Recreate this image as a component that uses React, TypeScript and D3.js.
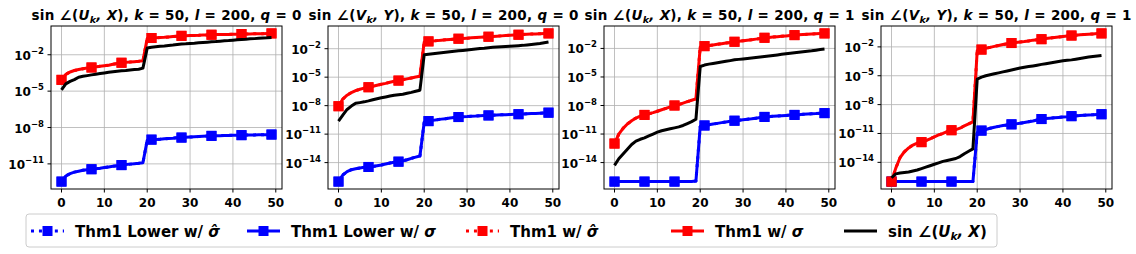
import React from "react";
import * as d3 from "d3";

const W = 1136;
const H = 254;

const iters = d3.range(50);
const xTicks = [0, 10, 20, 30, 40, 50];

// curves are kept as log10 of the value
// panel 1: U, q = 0
const lowerU0 = [
  -12.46, -12.0, -11.8, -11.68, -11.6, -11.53, -11.48, -11.44, -11.4, -11.36,
  -11.3, -11.25, -11.2, -11.15, -11.1, -11.06, -11.02, -10.98, -10.95, -10.9,
  -9.05, -9.0, -8.98, -8.96, -8.93, -8.9, -8.88, -8.85, -8.83, -8.81,
  -8.79, -8.77, -8.75, -8.73, -8.71, -8.69, -8.68, -8.67, -8.66, -8.65,
  -8.64, -8.64, -8.63, -8.62, -8.61, -8.61, -8.6, -8.59, -8.59, -8.58,
];
const thmU0 = [
  -4.07, -3.62, -3.42, -3.3, -3.22, -3.15, -3.1, -3.05, -3.0, -2.95,
  -2.9, -2.86, -2.78, -2.72, -2.66, -2.62, -2.6, -2.57, -2.54, -2.5,
  -0.66, -0.62, -0.6, -0.58, -0.56, -0.53, -0.5, -0.47, -0.44, -0.43,
  -0.42, -0.41, -0.4, -0.38, -0.37, -0.35, -0.34, -0.33, -0.33, -0.32,
  -0.31, -0.3, -0.29, -0.29, -0.28, -0.27, -0.27, -0.26, -0.25, -0.24,
];
const sinU0 = [
  -4.9, -4.4, -4.2, -4.05, -3.85, -3.78, -3.72, -3.66, -3.6, -3.55,
  -3.5, -3.45, -3.4, -3.36, -3.32, -3.29, -3.25, -3.22, -3.19, -3.1,
  -1.45, -1.38, -1.34, -1.3, -1.27, -1.23, -1.2, -1.16, -1.12, -1.1,
  -1.07, -1.05, -1.02, -0.99, -0.96, -0.93, -0.91, -0.88, -0.85, -0.83,
  -0.8, -0.77, -0.74, -0.72, -0.69, -0.67, -0.64, -0.62, -0.6, -0.57,
];

// panel 2: V, q = 0
const lowerV0 = [
  -16.0, -15.3, -14.95, -14.75, -14.65, -14.56, -14.5, -14.46, -14.4, -14.33,
  -14.25, -14.15, -14.05, -13.97, -13.9, -13.82, -13.7, -13.55, -13.42, -13.3,
  -9.75, -9.63, -9.55, -9.48, -9.42, -9.37, -9.31, -9.25, -9.2, -9.17,
  -9.15, -9.12, -9.1, -9.07, -9.05, -9.03, -9.01, -8.99, -8.97, -8.95,
  -8.93, -8.91, -8.9, -8.88, -8.86, -8.84, -8.82, -8.79, -8.77, -8.74,
];
const thmV0 = [
  -8.06, -7.3, -6.9, -6.62, -6.42, -6.27, -6.15, -6.06, -5.95, -5.85,
  -5.75, -5.65, -5.53, -5.43, -5.36, -5.28, -5.18, -5.08, -4.98, -4.9,
  -1.3, -1.23, -1.19, -1.15, -1.11, -1.07, -1.03, -0.99, -0.95, -0.92,
  -0.89, -0.86, -0.83, -0.8, -0.77, -0.74, -0.71, -0.68, -0.65, -0.62,
  -0.59, -0.56, -0.53, -0.5, -0.48, -0.46, -0.44, -0.42, -0.4, -0.39,
];
const sinV0 = [
  -9.63, -9.0, -8.4, -8.05, -7.75, -7.68, -7.6, -7.5, -7.38, -7.27,
  -7.17, -7.08, -6.98, -6.9, -6.85, -6.8, -6.7, -6.6, -6.48, -6.37,
  -2.63, -2.58, -2.53, -2.48, -2.43, -2.38, -2.33, -2.28, -2.22, -2.18,
  -2.13, -2.08, -2.04, -1.99, -1.95, -1.9, -1.86, -1.83, -1.8, -1.77,
  -1.74, -1.71, -1.68, -1.65, -1.6, -1.55, -1.5, -1.45, -1.38, -1.3,
];

// panel 3: U, q = 1
const lowerU1 = [
  -16.0, -16.0, -16.0, -16.0, -16.0, -16.0, -16.0, -16.0, -16.0, -16.0,
  -16.0, -16.0, -16.0, -16.0, -16.0, -16.0, -16.0, -16.0, -16.0, -15.95,
  -10.2, -10.1, -10.02, -9.95, -9.88, -9.8, -9.73, -9.66, -9.6, -9.55,
  -9.5, -9.45, -9.4, -9.33, -9.26, -9.2, -9.17, -9.14, -9.1, -9.07,
  -9.04, -9.01, -8.99, -8.96, -8.93, -8.9, -8.87, -8.85, -8.82, -8.8,
];
const thmU1 = [
  -12.0, -11.0, -10.4, -9.95, -9.6, -9.32, -9.12, -8.99, -8.88, -8.75,
  -8.6, -8.45, -8.3, -8.15, -8.0, -7.9, -7.75, -7.6, -7.45, -7.3,
  -1.85, -1.76, -1.7, -1.63, -1.57, -1.5, -1.44, -1.37, -1.3, -1.25,
  -1.2, -1.14, -1.08, -1.02, -0.95, -0.88, -0.84, -0.8, -0.76, -0.72,
  -0.68, -0.64, -0.6, -0.57, -0.54, -0.51, -0.48, -0.46, -0.44, -0.42,
];
const sinU1 = [
  -14.3, -13.6, -13.1, -12.6, -12.1, -11.75, -11.55, -11.4, -11.2, -11.0,
  -10.8, -10.65, -10.55, -10.45, -10.35, -10.25, -10.1, -9.9, -9.7, -9.45,
  -3.9, -3.75, -3.65, -3.58, -3.5, -3.43, -3.35, -3.28, -3.2, -3.15,
  -3.1, -3.05, -3.0, -2.95, -2.9, -2.85, -2.8, -2.74, -2.68, -2.62,
  -2.56, -2.5, -2.45, -2.4, -2.35, -2.3, -2.25, -2.18, -2.12, -2.07,
];

// panel 4: V, q = 1
const lowerV1 = [
  -16.0, -16.0, -16.0, -16.0, -16.0, -16.0, -16.0, -16.0, -16.0, -16.0,
  -16.0, -16.0, -16.0, -16.0, -16.0, -16.0, -16.0, -16.0, -16.0, -16.0,
  -10.9, -10.7, -10.58, -10.46, -10.35, -10.26, -10.18, -10.12, -10.05, -10.0,
  -9.93, -9.86, -9.78, -9.7, -9.6, -9.5, -9.45, -9.41, -9.37, -9.33,
  -9.29, -9.25, -9.2, -9.17, -9.13, -9.1, -9.07, -9.05, -9.02, -9.0,
];
const thmV1 = [
  -16.0, -14.6, -13.5, -12.9, -12.5, -12.2, -12.0, -11.9, -11.75, -11.55,
  -11.35, -11.15, -11.0, -10.8, -10.66, -10.6, -10.45, -10.2, -10.0, -9.8,
  -2.4, -2.28, -2.15, -2.05, -1.95, -1.85, -1.76, -1.68, -1.6, -1.55,
  -1.5, -1.45, -1.38, -1.3, -1.25, -1.2, -1.14, -1.08, -1.03, -0.98,
  -0.93, -0.87, -0.82, -0.78, -0.74, -0.71, -0.68, -0.65, -0.62, -0.6,
];
const sinV1 = [
  -15.6, -15.2, -15.1, -15.05, -15.0, -14.9, -14.8, -14.65, -14.5, -14.35,
  -14.2, -14.05, -13.9, -13.8, -13.7, -13.6, -13.4, -13.1, -12.85, -12.6,
  -5.34, -5.15, -5.0, -4.9, -4.8, -4.7, -4.6, -4.5, -4.4, -4.3,
  -4.2, -4.12, -4.05, -3.98, -3.9, -3.82, -3.75, -3.68, -3.6, -3.52,
  -3.45, -3.4, -3.35, -3.28, -3.2, -3.13, -3.06, -3.0, -2.95, -2.9,
];

// the sigma-hat curves sit exactly under the sigma ones
const panels = [
  { A: "U", B: "X", q: 0, lower: lowerU0, thm: thmU0, sin: sinU0, yTicks: [-11, -8, -5, -2] },
  { A: "V", B: "Y", q: 0, lower: lowerV0, thm: thmV0, sin: sinV0, yTicks: [-14, -11, -8, -5, -2] },
  { A: "U", B: "X", q: 1, lower: lowerU1, thm: thmU1, sin: sinU1, yTicks: [-14, -11, -8, -5, -2] },
  { A: "V", B: "Y", q: 1, lower: lowerV1, thm: thmV1, sin: sinV1, yTicks: [-14, -11, -8, -5, -2] },
];

const BLUE = "#0000ff";
const RED = "#ff0000";
const FONT = "DejaVu Sans, sans-serif";

const panelLeft = [51, 328, 604, 881];
const panelW = 231;
const top = 26;
const bottom = 189;

const Panel = ({ p, left }) => {
  const x = d3.scaleLinear().domain([-2.45, 51.45]).range([left, left + panelW]);
  const all = [...p.lower, ...p.thm, ...p.sin];
  const lo = d3.min(all);
  const hi = d3.max(all);
  const pad = (hi - lo) * 0.05;
  const y = d3
    .scaleLog()
    .domain([10 ** (lo - pad), 10 ** (hi + pad)])
    .range([bottom, top]);

  const line = d3
    .line<number>()
    .x((_, i) => x(i))
    .y((v) => y(10 ** v));

  const series = [
    { data: p.lower, color: BLUE, dash: "3 4.95", marks: true },
    { data: p.lower, color: BLUE, dash: null, marks: true },
    { data: p.thm, color: RED, dash: "3 4.95", marks: true },
    { data: p.thm, color: RED, dash: null, marks: true },
    { data: p.sin, color: "#000", dash: null, marks: false },
  ];

  const cx = left + panelW / 2;

  return (
    <g fontFamily={FONT} fontWeight="bold">
      {/* grid */}
      {xTicks.map((t) => (
        <line key={"gx" + t} x1={x(t)} x2={x(t)} y1={top} y2={bottom} stroke="#b0b0b0" strokeWidth={0.8} />
      ))}
      {p.yTicks.map((e) => (
        <line key={"gy" + e} x1={left} x2={left + panelW} y1={y(10 ** e)} y2={y(10 ** e)} stroke="#b0b0b0" strokeWidth={0.8} />
      ))}

      {series.map((s, k) => (
        <g key={k}>
          <path
            d={line(s.data)}
            fill="none"
            stroke={s.color}
            strokeWidth={3}
            strokeDasharray={s.dash || undefined}
            strokeLinejoin="round"
          />
          {s.marks &&
            iters
              .filter((i) => i % 7 === 0)
              .map((i) => (
                <rect key={i} x={x(i) - 5} y={y(10 ** s.data[i]) - 5} width={10} height={10} fill={s.color} />
              ))}
        </g>
      ))}

      <rect x={left} y={top} width={panelW} height={bottom - top} fill="none" stroke="#000" strokeWidth={1} />

      {/* x axis */}
      {xTicks.map((t) => (
        <g key={"tx" + t}>
          <line x1={x(t)} x2={x(t)} y1={bottom} y2={bottom + 3.5} stroke="#000" />
          <text x={x(t)} y={207} textAnchor="middle" fontSize={12}>
            {t}
          </text>
        </g>
      ))}

      {/* y axis */}
      {p.yTicks.map((e) => (
        <g key={"ty" + e}>
          <line x1={left - 3.5} x2={left} y1={y(10 ** e)} y2={y(10 ** e)} stroke="#000" />
          <text x={left - 7} y={y(10 ** e) + 5} textAnchor="end" fontSize={12}>
            <tspan>10</tspan>
            <tspan fontSize={8.5} dy={-6}>{"\u2212" + -e}</tspan>
          </text>
        </g>
      ))}

      {/* title */}
      <text
        x={cx}
        y={20}
        textAnchor="middle"
        fontSize={13.5}
        textLength={270}
        lengthAdjust="spacing"
        style={{ whiteSpace: "pre" }}
      >
        <tspan>sin ∠(</tspan>
        <tspan fontStyle="italic">{p.A}</tspan>
        <tspan fontStyle="italic" fontSize={9.5} dy={3}>k</tspan>
        <tspan fontStyle="italic" dy={-3}>{", " + p.B}</tspan>
        <tspan>{"), "}</tspan>
        <tspan fontStyle="italic">k</tspan>
        <tspan>{" = 50, "}</tspan>
        <tspan fontStyle="italic">l</tspan>
        <tspan>{" = 200, "}</tspan>
        <tspan fontStyle="italic">q</tspan>
        <tspan>{" = " + p.q}</tspan>
      </text>
    </g>
  );
};

const legendItems = [
  { label: "Thm1 Lower w/ ", sym: "σ\u0302", color: BLUE, dash: "3 4.95", mark: true },
  { label: "Thm1 Lower w/ ", sym: "σ", color: BLUE, dash: null, mark: true },
  { label: "Thm1 w/ ", sym: "σ\u0302", color: RED, dash: "3 4.95", mark: true },
  { label: "Thm1 w/ ", sym: "σ", color: RED, dash: null, mark: true },
  { label: null, sym: null, color: "#000", dash: null, mark: false },
];
const legendX = [31, 247, 466, 671, 844];

const Legend = () => {
  const cy = 231;
  return (
    <g fontFamily={FONT} fontWeight="bold">
      <rect x={26} y={214} width={971} height={33} rx={3} fill="#fff" fillOpacity={0.8} stroke="#cccccc" />
      {legendItems.map((it, i) => {
        const hx = legendX[i];
        return (
          <g key={i}>
            <line x1={hx} x2={hx + 33} y1={cy} y2={cy} stroke={it.color} strokeWidth={3} strokeDasharray={it.dash || undefined} />
            {it.mark && <rect x={hx + 11.5} y={cy - 5} width={10} height={10} fill={it.color} />}
            <text x={hx + 44} y={237} fontSize={15} style={{ whiteSpace: "pre" }}>
              {it.label ? (
                <>
                  <tspan>{it.label}</tspan>
                  <tspan fontStyle="italic">{it.sym}</tspan>
                </>
              ) : (
                <>
                  <tspan>sin ∠(</tspan>
                  <tspan fontStyle="italic">U</tspan>
                  <tspan fontStyle="italic" fontSize={10.5} dy={3}>k</tspan>
                  <tspan fontStyle="italic" dy={-3}>, X</tspan>
                  <tspan>)</tspan>
                </>
              )}
            </text>
          </g>
        );
      })}
    </g>
  );
};

export default function App() {
  return (
    <svg
      width={W}
      height={H}
      style={{ position: "fixed", left: 0, top: 0, display: "block", background: "#fff" }}
    >
      {panels.map((p, i) => (
        <Panel key={i} p={p} left={panelLeft[i]} />
      ))}
      <Legend />
    </svg>
  );
}
